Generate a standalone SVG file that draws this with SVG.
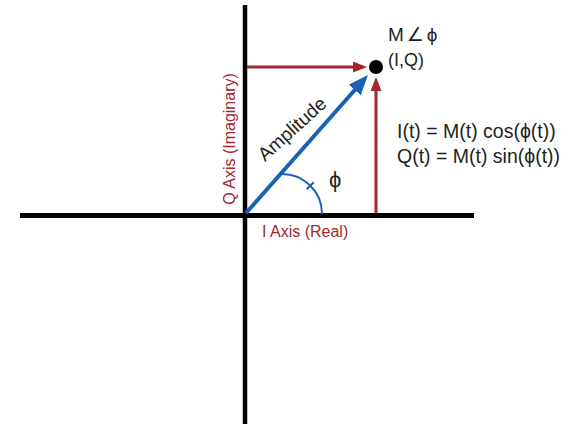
<svg xmlns="http://www.w3.org/2000/svg" width="572" height="424" viewBox="0 0 572 424">
<style>
text{font-family:"Liberation Sans","DejaVu Sans",sans-serif;fill:#231f20}
.red{fill:#a4262c}
.axis{stroke:#000;fill:none}
.rl{stroke:#a4262c;stroke-width:3;fill:none}
.bl{stroke:#1a62b8;fill:none}
</style>
<defs>
<marker id="ar" markerUnits="userSpaceOnUse" markerWidth="16" markerHeight="12" refX="2" refY="5.5" orient="auto">
<path d="M0,0 L14,5.5 L0,11 z" fill="#a4262c"/>
</marker>
<marker id="ab" markerUnits="userSpaceOnUse" markerWidth="22" markerHeight="18" refX="4" refY="8" orient="auto">
<path d="M0,0 L20,8 L0,16 z" fill="#1a62b8"/>
</marker>
</defs>
<g id="axes">
<line class="axis" x1="245" y1="5" x2="245" y2="424" stroke-width="4.5"/>
<line class="axis" x1="20" y1="215.5" x2="474" y2="215.5" stroke-width="5"/>
</g>
<g id="connectors">
<line class="rl" x1="247" y1="67" x2="355" y2="67" marker-end="url(#ar)"/>
<line class="rl" x1="376" y1="213" x2="376" y2="89" marker-end="url(#ar)"/>
<line class="bl" x1="246" y1="213" x2="357.4" y2="87" stroke-width="4" marker-end="url(#ab)"/>
<path class="bl" d="M280.2,174 A40,40 0 0 1 322,214" stroke-width="2"/>
<line class="bl" x1="306.7" y1="189.3" x2="313.8" y2="182.2" stroke-width="2"/>
</g>
<g id="point">
<circle cx="376" cy="67" r="7" fill="#000"/>
<text x="388" y="41" font-size="19" letter-spacing="3">M∠ϕ</text>
<text x="388" y="66" font-size="18">(I,Q)</text>
</g>
<g id="equations">
<text x="397" y="138" font-size="19.5">I(t) = M(t) cos(ϕ(t))</text>
<text x="397" y="163" font-size="19.5">Q(t) = M(t) sin(ϕ(t))</text>
</g>
<g id="labels">
<text transform="translate(265,162) rotate(-42)" font-size="19">Amplitude</text>
<text x="329" y="187" font-size="22">ϕ</text>
<text class="red" transform="translate(235,139) rotate(-90)" font-size="16" text-anchor="middle">Q Axis (Imaginary)</text>
<text class="red" x="262" y="237" font-size="16">I Axis (Real)</text>
</g>
</svg>
